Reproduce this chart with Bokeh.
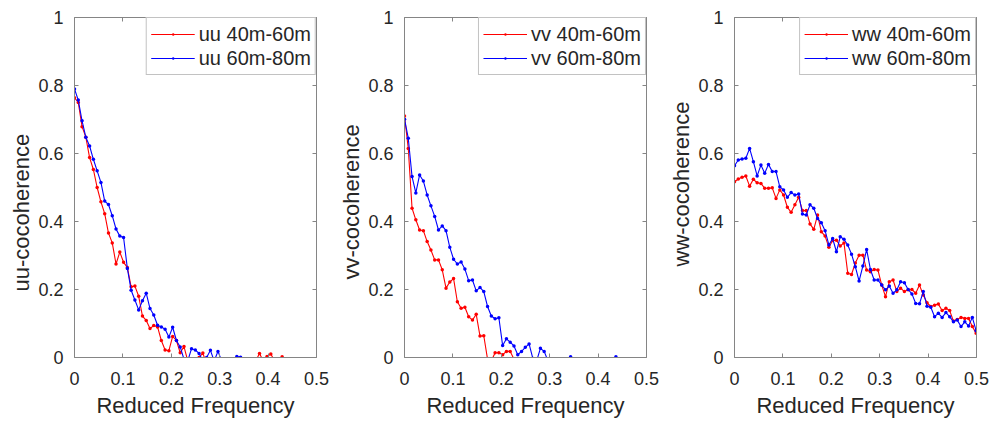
from bokeh.plotting import figure
from bokeh.layouts import row
from bokeh.models import FixedTicker, CustomJSTickFormatter, LinearAxis, Range1d, Title
from bokeh.embed import file_html
from bokeh.resources import INLINE

# Reduced frequency (shared sampling of all series)
freq = [0.0, 0.0078, 0.0156, 0.0234, 0.0312, 0.039, 0.0468, 0.0546, 0.0624, 0.0702,
        0.078, 0.0858, 0.0936, 0.1014, 0.1092, 0.117, 0.1248, 0.1326, 0.1404, 0.1482,
        0.156, 0.1638, 0.1716, 0.1794, 0.1872, 0.195, 0.2028, 0.2106, 0.2184, 0.2262,
        0.234, 0.2418, 0.2496, 0.2574, 0.2652, 0.273, 0.2808, 0.2886, 0.2964, 0.3042,
        0.312, 0.3198, 0.3276, 0.3354, 0.3432, 0.351, 0.3588, 0.3666, 0.3744, 0.3822,
        0.39, 0.3978, 0.4056, 0.4134, 0.4212, 0.429, 0.4368, 0.4446, 0.4524, 0.4602,
        0.468, 0.4758, 0.4836, 0.4914, 0.4992]

uu_40_60 = [0.764, 0.75, 0.679, 0.648, 0.588, 0.553, 0.50, 0.458, 0.423, 0.366,
            0.337, 0.275, 0.31, 0.28, 0.265, 0.208, 0.21, 0.18, 0.122, 0.109,
            0.085, 0.094, 0.09, 0.05, 0.022, 0.02, 0.062, 0.05, 0.014, 0.032,
            -0.01, -0.012, -0.005, 0.0, 0.013, -0.02, -0.03, -0.02, -0.03, -0.04,
            -0.03, -0.04, -0.03, -0.04, -0.03, -0.02, -0.03, -0.02, -0.01, 0.012,
            -0.01, 0.003, 0.01, -0.01, -0.015, 0.002, -0.02, -0.03, -0.02, -0.03,
            -0.04, -0.03, -0.04, -0.03, -0.04]
uu_60_80 = [0.79, 0.757, 0.696, 0.648, 0.622, 0.583, 0.549, 0.515, 0.46, 0.45,
            0.417, 0.378, 0.357, 0.353, 0.262, 0.198, 0.169, 0.14, 0.167, 0.189,
            0.144, 0.125, 0.095, 0.09, 0.083, 0.06, 0.089, 0.05, 0.031, -0.005,
            -0.01, 0.026, 0.022, 0.012, -0.01, 0.0, 0.021, -0.01, 0.018, -0.01,
            -0.02, -0.03, -0.02, 0.003, 0.001, -0.01, -0.03, -0.04, -0.03, -0.04,
            -0.05, -0.04, -0.05, -0.04, -0.05, -0.06, -0.05, -0.06, -0.05, -0.06,
            -0.05, -0.06, -0.05, -0.06, -0.07]
vv_40_60 = [0.71, 0.615, 0.439, 0.405, 0.375, 0.373, 0.341, 0.316, 0.287, 0.287,
            0.258, 0.204, 0.222, 0.232, 0.164, 0.145, 0.148, 0.12, 0.11, 0.127,
            0.063, 0.064, -0.005, -0.01, 0.014, 0.014, 0.008, 0.018, 0.018, -0.005,
            -0.02, -0.03, -0.02, -0.04, -0.03, -0.04, -0.05, -0.04, -0.05, -0.06,
            -0.05, -0.06, -0.05, -0.06, -0.07, -0.06, -0.07, -0.06, -0.07, -0.08,
            -0.07, -0.08, -0.07, -0.08, -0.07, -0.08, -0.09, -0.08, -0.09, -0.08,
            -0.09, -0.08, -0.09, -0.1, -0.09]
vv_60_80 = [0.701, 0.645, 0.532, 0.484, 0.537, 0.519, 0.478, 0.446, 0.415, 0.375,
            0.387, 0.373, 0.324, 0.289, 0.275, 0.281, 0.26, 0.226, 0.228, 0.196,
            0.206, 0.194, 0.15, 0.122, 0.114, 0.117, 0.035, 0.055, 0.045, 0.034,
            0.008, 0.018, 0.03, 0.04, -0.003, -0.01, 0.027, 0.018, -0.01, -0.02,
            -0.03, -0.02, -0.03, -0.02, 0.002, -0.02, -0.03, -0.04, -0.05, -0.04,
            -0.05, -0.04, -0.03, -0.04, -0.03, -0.02, 0.002, -0.02, -0.03, -0.04,
            -0.05, -0.04, -0.05, -0.06, -0.05]
ww_40_60 = [0.517, 0.525, 0.53, 0.534, 0.504, 0.524, 0.514, 0.512, 0.498, 0.498,
            0.499, 0.468, 0.493, 0.478, 0.442, 0.427, 0.449, 0.471, 0.432, 0.432,
            0.393, 0.377, 0.419, 0.37, 0.357, 0.324, 0.344, 0.345, 0.328, 0.337,
            0.248, 0.244, 0.278, 0.301, 0.301, 0.257, 0.252, 0.259, 0.257, 0.213,
            0.179, 0.223, 0.228, 0.194, 0.204, 0.194, 0.199, 0.2, 0.189, 0.213,
            0.184, 0.161, 0.15, 0.154, 0.157, 0.138, 0.145, 0.138, 0.107, 0.112,
            0.118, 0.115, 0.115, 0.091, 0.071]
ww_60_80 = [0.564, 0.581, 0.584, 0.586, 0.615, 0.576, 0.534, 0.566, 0.542, 0.568,
            0.547, 0.547, 0.502, 0.493, 0.471, 0.485, 0.478, 0.481, 0.422, 0.419,
            0.449, 0.439, 0.409, 0.396, 0.373, 0.331, 0.35, 0.311, 0.355, 0.348,
            0.331, 0.304, 0.267, 0.225, 0.269, 0.318, 0.259, 0.228, 0.228, 0.213,
            0.199, 0.21, 0.189, 0.199, 0.223, 0.22, 0.2, 0.187, 0.159, 0.158,
            0.194, 0.151, 0.148, 0.12, 0.13, 0.118, 0.132, 0.12, 0.105, 0.11,
            0.091, 0.105, 0.093, 0.118, 0.079]

x_ticks = [0, 0.1, 0.2, 0.3, 0.4, 0.5]
y_ticks = [0, 0.2, 0.4, 0.6, 0.8, 1.0]

# y-label start offset (px above the bottom of the axes) as placed in the original
panels = [
    ("uu-cocoherence", 66, "uu 40m-60m", "uu 60m-80m", uu_40_60, uu_60_80),
    ("vv-cocoherence", 78, "vv 40m-60m", "vv 60m-80m", vv_40_60, vv_60_80),
    ("ww-cocoherence", 91, "ww 40m-60m", "ww 60m-80m", ww_40_60, ww_60_80),
]

FONT = "Liberation Sans"
AXIS_COL = "#858585"
TEXT_COL = "#262626"
fmt_code = """
if (Math.abs(tick) < 1e-9) return "0";
if (Math.abs(tick - 1) < 1e-9) return "1";
return tick.toFixed(1);
"""
blank = "return '';"


def style_axis(ax, ticks, labelled=True):
    ax.ticker = FixedTicker(ticks=ticks)
    ax.axis_line_color = AXIS_COL
    ax.major_tick_line_color = AXIS_COL
    ax.major_tick_in = 4
    ax.major_tick_out = 0
    ax.minor_tick_line_color = None
    if labelled:
        ax.formatter = CustomJSTickFormatter(code=fmt_code)
        ax.major_label_text_font = FONT
        ax.major_label_text_font_size = "18px"
        ax.major_label_text_color = TEXT_COL
        ax.axis_label_text_font = FONT
        ax.axis_label_text_font_size = "22px"
        ax.axis_label_text_font_style = "normal"
        ax.axis_label_text_color = TEXT_COL
    else:
        ax.formatter = CustomJSTickFormatter(code=blank)


figs = []
for ylabel, ylabel_off, lab_red, lab_blue, red, blue in panels:
    p = figure(frame_width=242, frame_height=340,
               x_range=Range1d(0, 0.5), y_range=Range1d(0, 1),
               output_backend="svg", toolbar_location=None,
               min_border_left=74, min_border_right=14,
               min_border_top=17, min_border_bottom=67)
    p.grid.visible = False
    p.outline_line_color = None
    p.background_fill_color = "white"
    p.border_fill_color = "white"

    p.line(freq, red, color="#ff0000", line_width=1.1, legend_label=lab_red)
    p.scatter(freq, red, marker="dot", color="#ff0000", size=14, legend_label=lab_red)
    p.line(freq, blue, color="#0000ff", line_width=1.1, legend_label=lab_blue)
    p.scatter(freq, blue, marker="dot", color="#0000ff", size=14, legend_label=lab_blue)

    p.xaxis.axis_label = "Reduced Frequency"
    style_axis(p.xaxis[0], x_ticks)
    style_axis(p.yaxis[0], y_ticks)
    p.xaxis[0].major_label_standoff = 14
    p.xaxis[0].axis_label_standoff = 5
    p.yaxis[0].major_label_standoff = 11

    p.add_layout(Title(text=ylabel, align="left", offset=ylabel_off,
                       text_font=FONT, text_font_size="22px",
                       text_font_style="normal", text_color=TEXT_COL,
                       standoff=3), "left")

    top = LinearAxis()
    style_axis(top, x_ticks, labelled=False)
    p.add_layout(top, "above")
    right = LinearAxis()
    style_axis(right, y_ticks, labelled=False)
    p.add_layout(right, "right")

    lg = p.legend[0]
    lg.location = "top_right"
    lg.margin = 0
    lg.padding = 4
    lg.spacing = 0
    lg.border_line_color = AXIS_COL
    lg.border_line_width = 1
    lg.background_fill_color = "white"
    lg.background_fill_alpha = 1
    lg.label_text_font = FONT
    lg.label_text_font_size = "20px"
    lg.label_text_color = TEXT_COL
    lg.glyph_width = 44
    lg.glyph_height = 24
    lg.label_height = 24
    lg.label_standoff = 4
    figs.append(p)

layout = row(*figs)
open("out.html", "w").write(file_html(layout, INLINE))
